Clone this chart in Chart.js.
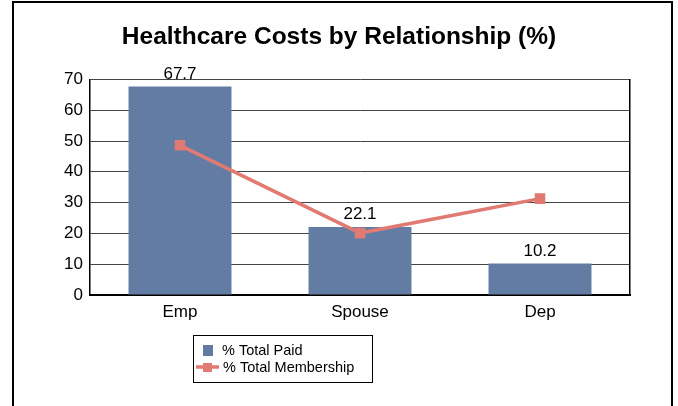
<!DOCTYPE html>
<html>
<head>
<meta charset="utf-8">
<script src="https://cdn.jsdelivr.net/npm/chart.js@4"></script>
<style>
  html, body { margin: 0; padding: 0; background: #fff; }
  #wrap { width: 678px; height: 406px; }
</style>
</head>
<body>
<div id="wrap"><canvas id="costChart" width="678" height="406"></canvas></div>
<script>
const categories = ['Emp', 'Spouse', 'Dep'];
const totalPaid = [67.7, 22.1, 10.2];
const totalMembership = [48.6, 20.1, 31.3];
const yTicks = [0, 10, 20, 30, 40, 50, 60, 70];

const BAR_COLOR = '#637ca4';
const LINE_COLOR = '#e07a72';
const FONT = 'Arial, "Liberation Sans", sans-serif';

// white page with the outer frame
const framePlugin = {
    id: 'frame',
    beforeDraw(chart) {
        const ctx = chart.ctx;
        ctx.save();
        ctx.fillStyle = '#fff';
        ctx.fillRect(0, 0, chart.width, chart.height);
        ctx.strokeStyle = '#000';
        ctx.lineWidth = 2;
        ctx.beginPath();
        ctx.moveTo(13, chart.height + 5);
        ctx.lineTo(13, 2);
        ctx.lineTo(672, 2);
        ctx.lineTo(672, chart.height + 5);
        ctx.stroke();
        ctx.restore();
    }
};

// value labels above the bars
const barLabels = {
    id: 'barLabels',
    afterDatasetsDraw(chart) {
        const ctx = chart.ctx;
        const meta = chart.getDatasetMeta(0);
        ctx.save();
        ctx.font = '17px ' + FONT;
        ctx.fillStyle = '#000';
        ctx.textAlign = 'center';
        ctx.textBaseline = 'bottom';
        meta.data.forEach((bar, i) => {
            ctx.fillText(totalPaid[i].toFixed(1), bar.x, bar.y - 4);
        });
        ctx.restore();
    }
};

// boxed legend under the axis
const boxLegend = {
    id: 'boxLegend',
    afterDraw(chart) {
        const ctx = chart.ctx;
        const x = 193, y = 335, w = 179, h = 47;
        ctx.save();
        ctx.strokeStyle = '#000';
        ctx.lineWidth = 1;
        ctx.strokeRect(x + 0.5, y + 0.5, w, h);

        ctx.fillStyle = BAR_COLOR;
        ctx.fillRect(x + 10, y + 10, 10, 11);

        ctx.strokeStyle = LINE_COLOR;
        ctx.lineWidth = 3.5;
        ctx.beginPath();
        ctx.moveTo(x + 3, y + 32);
        ctx.lineTo(x + 26, y + 32);
        ctx.stroke();
        ctx.fillStyle = LINE_COLOR;
        ctx.fillRect(x + 10, y + 28, 9, 9);

        ctx.font = '14.5px ' + FONT;
        ctx.fillStyle = '#000';
        ctx.textAlign = 'left';
        ctx.textBaseline = 'middle';
        ctx.fillText(chart.data.datasets[0].label, x + 29, y + 16);
        ctx.fillText(chart.data.datasets[1].label, x + 30, y + 33);
        ctx.restore();
    }
};

document.addEventListener('DOMContentLoaded', function() {
    const ctx = document.getElementById('costChart').getContext('2d');
    new Chart(ctx, {
        data: {
            labels: categories,
            datasets: [{
                type: 'bar',
                label: '% Total Paid',
                data: totalPaid,
                backgroundColor: BAR_COLOR,
                borderWidth: 0,
                categoryPercentage: 1,
                barPercentage: 0.572,
                order: 1
            }, {
                type: 'line',
                label: '% Total Membership',
                data: totalMembership,
                borderColor: LINE_COLOR,
                backgroundColor: LINE_COLOR,
                borderWidth: 3.5,
                pointStyle: 'rect',
                pointRadius: 5,
                pointHoverRadius: 5,
                tension: 0,
                order: 0
            }]
        },
        options: {
            responsive: false,
            animation: false,
            devicePixelRatio: 1,
            layout: { padding: 0 },
            plugins: {
                legend: { display: false },
                tooltip: { enabled: false },
                title: {
                    display: true,
                    text: 'Healthcare Costs by Relationship (%)',
                    color: '#000',
                    font: { family: FONT, size: 24.5, weight: 'bold', lineHeight: 1.2 },
                    padding: { top: 23, bottom: 27 }
                }
            },
            scales: {
                x: {
                    grid: { display: false, drawTicks: false },
                    border: { display: true, color: '#000', width: 2 },
                    ticks: { color: '#000', font: { family: FONT, size: 17 }, padding: 7 },
                    afterFit(scale) { scale.height = 111; }
                },
                y: {
                    min: 0,
                    max: 70,
                    afterBuildTicks(scale) { scale.ticks = yTicks.map(v => ({ value: v })); },
                    grid: { color: '#444', lineWidth: 1, drawTicks: false },
                    border: { display: true, color: '#000', width: 1.5 },
                    ticks: { color: '#000', font: { family: FONT, size: 17 }, padding: 7 },
                    afterFit(scale) { scale.width = 90; }
                },
                yRight: {
                    position: 'right',
                    min: 0,
                    max: 70,
                    grid: { drawOnChartArea: false, drawTicks: false },
                    border: { display: true, color: '#000', width: 1.5 },
                    ticks: { display: false },
                    afterFit(scale) { scale.width = 48; }
                }
            }
        },
        plugins: [framePlugin, barLabels, boxLegend]
    });
});
</script>
</body>
</html>
